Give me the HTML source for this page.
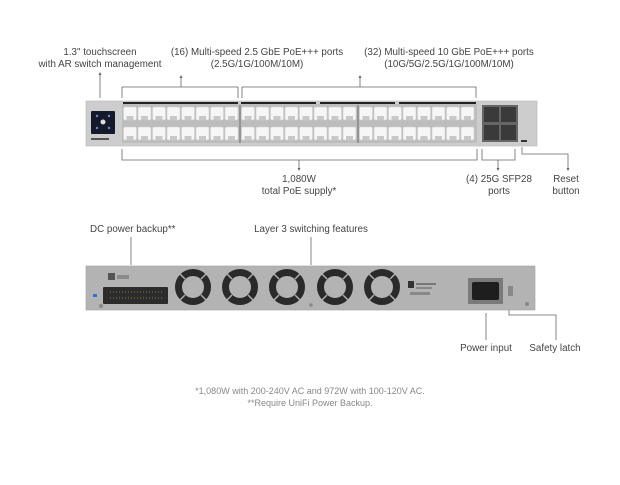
<!DOCTYPE html>
<html><head><style>
body{margin:0;background:#fff;width:620px;height:485px;overflow:hidden}
svg{display:block}
text{font-family:"Liberation Sans",sans-serif;font-size:9.8px;fill:#444}
</style></head><body>
<svg width="620" height="485" viewBox="0 0 620 485">
<defs>
<g id="port"><rect x="0.5" y="0" width="13" height="13" rx="1.5" fill="#f6f6f6" stroke="#cfcfcf" stroke-width="0.6"/><rect x="3.5" y="9" width="7" height="4" fill="#c8c8c8"/></g>
<g id="fan"><circle r="14.5" fill="none" stroke="#2a2a2a" stroke-width="7"/><g stroke="#b3b3b3" stroke-width="1.4"><line x1="-8" y1="-8" x2="-14" y2="-14"/><line x1="8" y1="-8" x2="14" y2="-14"/><line x1="-8" y1="8" x2="-14" y2="14"/><line x1="8" y1="8" x2="14" y2="14"/></g></g>
</defs>
<g stroke="#666" stroke-width="0.8" fill="none">
<line x1="100" y1="74" x2="100" y2="98"/>
<polyline points="122,98 122,87 238,87 238,98"/><line x1="181" y1="87" x2="181" y2="77"/>
<polyline points="242,98 242,87 476,87 476,98"/><line x1="360" y1="87" x2="360" y2="77"/>
<polyline points="122,149 122,160 477,160 477,149"/><line x1="299" y1="160" x2="299" y2="169"/>
<polyline points="482,149 482,160 515,160 515,149"/><line x1="498" y1="160" x2="498" y2="169"/>
<polyline points="522,147 522,154 568,154 568,169"/>
<line x1="131" y1="237" x2="131" y2="265"/>
<line x1="311" y1="237" x2="311" y2="265"/>
<line x1="486" y1="313" x2="486" y2="340"/>
<polyline points="509,310 509,315 556,315 556,340"/>
</g>
<g fill="#666"><path d="M100,72l-1.5,3h3z"/><path d="M181,75l-1.5,3h3z"/><path d="M360,75l-1.5,3h3z"/><path d="M299,171l-1.5,-3h3z"/><path d="M498,171l-1.5,-3h3z"/><path d="M568,171l-1.5,-3h3z"/></g>
<text x="100" y="55" text-anchor="middle">1.3" touchscreen</text>
<text x="100" y="67" text-anchor="middle">with AR switch management</text>
<text x="257" y="55" text-anchor="middle">(16) Multi-speed 2.5 GbE PoE+++ ports</text>
<text x="257" y="67" text-anchor="middle">(2.5G/1G/100M/10M)</text>
<text x="449" y="55" text-anchor="middle">(32) Multi-speed 10 GbE PoE+++ ports</text>
<text x="449" y="67" text-anchor="middle">(10G/5G/2.5G/1G/100M/10M)</text>
<text x="299" y="182" text-anchor="middle">1,080W</text>
<text x="299" y="194" text-anchor="middle">total PoE supply*</text>
<text x="499" y="182" text-anchor="middle">(4) 25G SFP28</text>
<text x="499" y="194" text-anchor="middle">ports</text>
<text x="566" y="182" text-anchor="middle">Reset</text>
<text x="566" y="194" text-anchor="middle">button</text>
<text x="90" y="232">DC power backup**</text>
<text x="311" y="232" text-anchor="middle">Layer 3 switching features</text>
<text x="486" y="351" text-anchor="middle">Power input</text>
<text x="555" y="351" text-anchor="middle">Safety latch</text>
<text x="310" y="394" text-anchor="middle" style="fill:#888;font-size:9px">*1,080W with 200-240V AC and 972W with 100-120V AC.</text>
<text x="310" y="406" text-anchor="middle" style="fill:#888;font-size:9px">**Require UniFi Power Backup.</text>
<rect x="86" y="101" width="451" height="45" fill="#cdcdcd" stroke="#b5b5b5" stroke-width="0.6"/>
<rect x="122" y="104" width="355" height="39" fill="#bdbdbd"/>
<rect x="123" y="102" width="115" height="2" fill="#222"/><rect x="241" y="102" width="75" height="2" fill="#222"/><rect x="320" y="102" width="75" height="2" fill="#222"/><rect x="399" y="102" width="77" height="2" fill="#222"/>
<line x1="240" y1="105" x2="240" y2="143" stroke="#555" stroke-width="0.8"/><line x1="358" y1="105" x2="358" y2="143" stroke="#555" stroke-width="0.8"/>
<g id="blk">
<use href="#port" x="123" y="107"/><use href="#port" x="137.5" y="107"/><use href="#port" x="152" y="107"/><use href="#port" x="166.5" y="107"/><use href="#port" x="181" y="107"/><use href="#port" x="195.5" y="107"/><use href="#port" x="210" y="107"/><use href="#port" x="224.5" y="107"/>
<use href="#port" x="123" y="127"/><use href="#port" x="137.5" y="127"/><use href="#port" x="152" y="127"/><use href="#port" x="166.5" y="127"/><use href="#port" x="181" y="127"/><use href="#port" x="195.5" y="127"/><use href="#port" x="210" y="127"/><use href="#port" x="224.5" y="127"/>
</g>
<use href="#blk" x="118"/><use href="#blk" x="236"/>
<rect x="91" y="111" width="24" height="23" rx="1" fill="#141a2a"/>
<circle cx="103" cy="122" r="2.5" fill="#ddd"/><circle cx="97" cy="116" r="1.2" fill="#6a8bd0"/><circle cx="109" cy="116" r="1.2" fill="#6a8bd0"/><circle cx="97" cy="128" r="1.2" fill="#6a8bd0"/><circle cx="109" cy="128" r="1.2" fill="#6a8bd0"/>
<rect x="91" y="138" width="18" height="2" fill="#555"/>
<rect x="482" y="105" width="36" height="37" fill="#666"/>
<rect x="484" y="107" width="15" height="15" fill="#3a3a3a"/><rect x="501" y="107" width="15" height="15" fill="#3a3a3a"/><rect x="484" y="125" width="15" height="15" fill="#3a3a3a"/><rect x="501" y="125" width="15" height="15" fill="#3a3a3a"/>
<rect x="521" y="140" width="6" height="2" fill="#333"/>
<rect x="86" y="266" width="449" height="44" fill="#b3b3b3" stroke="#a0a0a0" stroke-width="0.6"/>
<rect x="108" y="273" width="7" height="7" fill="#555"/><rect x="117" y="275" width="12" height="4" fill="#8a8a8a"/>
<rect x="103" y="287" width="65" height="17" rx="1" fill="#2c2c2c"/>
<g stroke="#8a7a30" stroke-width="1" stroke-dasharray="1 2"><line x1="110" y1="292" x2="162" y2="292"/><line x1="110" y1="298" x2="162" y2="298"/></g>
<rect x="93" y="294" width="4" height="3" fill="#2f6fd6"/>
<circle cx="101" cy="306" r="2" fill="#888"/>
<use href="#fan" x="193" y="287"/><use href="#fan" x="240" y="287"/><use href="#fan" x="287" y="287"/><use href="#fan" x="335" y="287"/><use href="#fan" x="382" y="287"/>
<circle cx="311" cy="305" r="1.8" fill="#888"/>
<rect x="408" y="281" width="6" height="7" fill="#333"/><rect x="416" y="283" width="20" height="2" fill="#777"/><rect x="416" y="287" width="16" height="2" fill="#888"/><rect x="410" y="292" width="20" height="3" fill="#888"/>
<rect x="468" y="278" width="35" height="26" fill="#7a7a7a"/><rect x="472" y="282" width="27" height="18" rx="2" fill="#1e1e1e"/>
<rect x="508" y="286" width="5" height="10" fill="#888"/>
<circle cx="527" cy="304" r="2" fill="#888"/>
</svg>
</body></html>
